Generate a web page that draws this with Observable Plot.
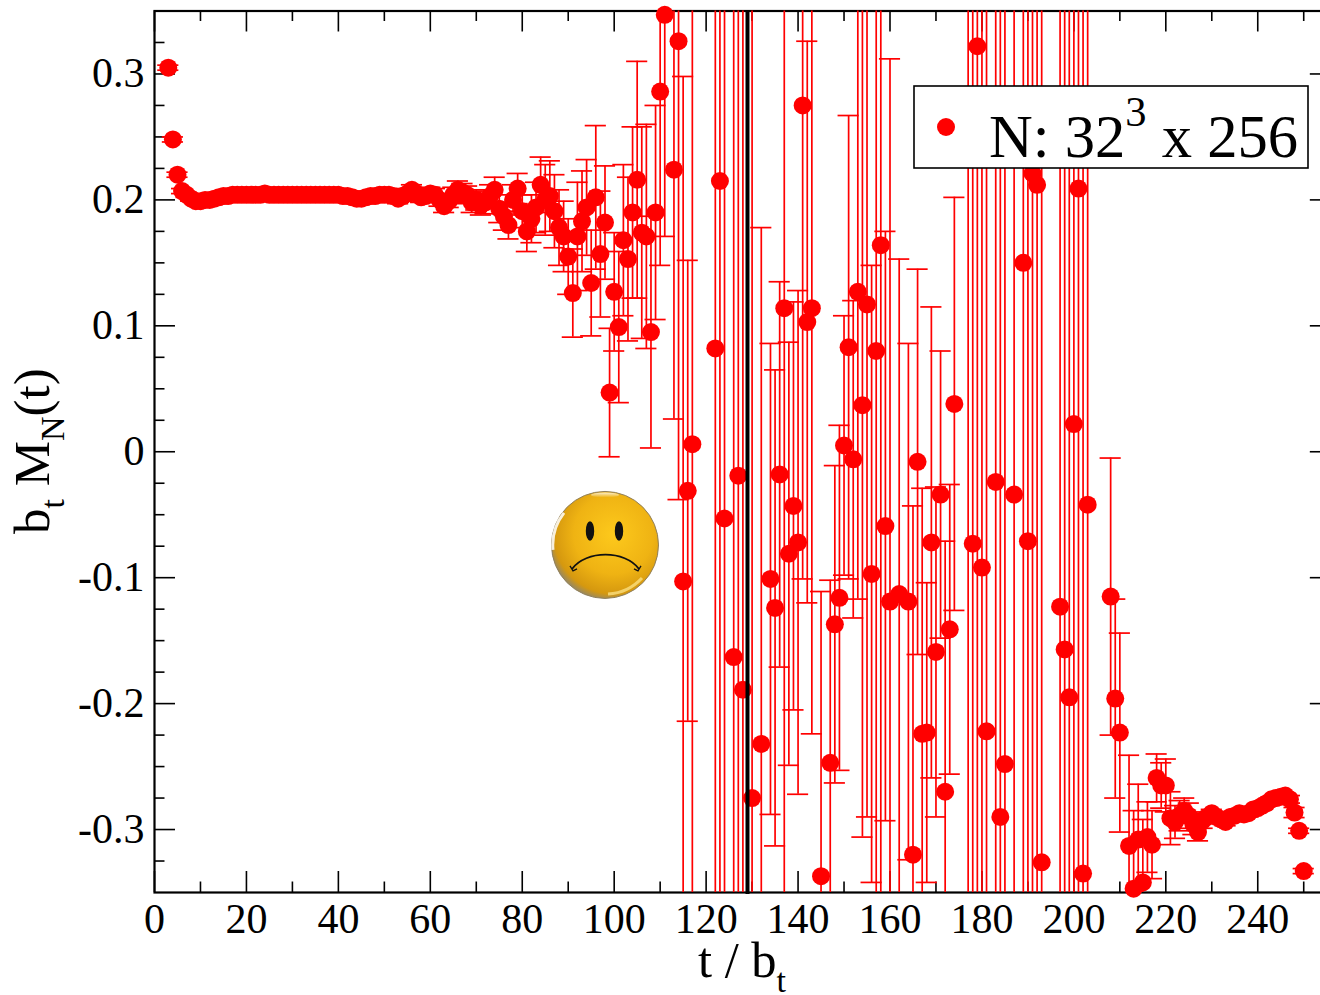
<!DOCTYPE html>
<html>
<head>
<meta charset="utf-8">
<script src="https://cdn.jsdelivr.net/npm/d3@7"></script>
<script src="https://cdn.jsdelivr.net/npm/@observablehq/plot@0.6"></script>
<style>html,body{margin:0;padding:0;background:#fff;overflow:hidden}svg{display:block}</style>
</head>
<body>
<div id="chart"></div>
<script>
const BIG = 0.9;
const times = [
  3,4,5,6,7,8,9,10,11,12,13,14,15,16,17,18,19,20,21,22,
  23,24,25,26,27,28,29,30,31,32,33,34,35,36,37,38,39,40,41,42,
  43,44,45,46,47,48,49,50,51,52,53,54,55,56,57,58,59,60,61,62,
  63,64,65,66,67,68,69,70,71,72,73,74,75,76,77,78,79,80,81,82,
  83,84,85,86,87,88,89,90,91,92,93,94,95,96,97,98,99,100,101,102,
  103,104,105,106,107,108,109,110,111,113,114,115,116,117,122,123,124,126,127,128,
  130,132,134,135,136,137,138,139,140,141,142,143,145,147,148,149,150,151,152,153,
  154,155,156,157,158,159,160,162,164,165,166,167,168,169,170,171,172,173,174,177,
  178,179,180,181,183,184,185,187,189,190,191,192,193,197,198,199,200,201,202,203,
  208,209,210,212,213,214,215,216,217,218,219,220,221,222,223,224,225,226,227,228,
  229,230,231,232,233,234,235,236,237,238,239,240,241,242,243,244,245,246,247,248,
  249,250
];
const values = [
  .305,.248,.220,.207,.204,.201,.199,.199,.200,.200,.201,.202,.203,.203,.204,.204,.204,.204,.204,.204,
  .204,.205,.204,.204,.204,.204,.204,.204,.204,.204,.204,.204,.204,.204,.204,.204,.204,.204,.203,.203,
  .202,.201,.201,.202,.203,.203,.204,.204,.204,.203,.201,.203,.205,.208,.205,.202,.203,.205,.204,.200,
  .195,.199,.204,.208,.206,.204,.198,.200,.196,.198,.203,.208,.193,.187,.180,.200,.209,.191,.175,.185,
  .194,.212,.200,.203,.191,.178,.171,.155,.126,.171,.183,.194,.134,.202,.157,.182,.047,.127,.099,.168,
  .153,.190,.216,.174,.171,.095,.190,.286,.347,.224,.326,-.103,-.031,.006,.082,.215,-.053,-.163,-.019,-.189,
  -.275,-.232,-.101,-.124,-.018,.114,-.081,-.043,-.072,.275,.103,.114,-.337,-.247,-.137,-.116,.005,.083,-.006,.127,
  .037,.117,-.097,.080,.164,-.059,-.119,-.113,-.119,-.320,-.008,-.224,-.223,-.072,-.159,-.034,-.270,-.141,.038,.260,
  -.073,.322,-.092,-.222,-.024,-.290,-.248,-.034,.150,-.071,.221,.212,-.326,-.123,-.157,-.195,.022,.209,-.335,-.042,
  -.115,-.196,-.223,-.313,-.347,-.308,-.342,-.306,-.312,-.259,-.265,-.265,-.291,-.294,-.289,-.285,-.289,-.296,-.302,-.293,
  -.290,-.287,-.290,-.292,-.294,-.290,-.289,-.287,-.288,-.287,-.284,-.283,-.281,-.279,-.276,-.275,-.274,-.273,-.276,-.2865,
  -.301,-.333
];
const errors = [
  .002,.002,.002,.002,.002,.002,.002,.002,.002,.002,.002,.002,.002,.002,.002,.002,.002,.002,.002,.002,
  .002,.002,.002,.002,.002,.002,.002,.002,.002,.002,.002,.002,.002,.002,.002,.002,.002,.002,.003,.003,
  .003,.003,.003,.003,.003,.003,.003,.003,.003,.003,.004,.004,.004,.004,.004,.004,.004,.005,.005,.005,
  .005,.005,.006,.007,.007,.007,.008,.008,.008,.009,.009,.010,.011,.011,.011,.012,.012,.013,.016,.019,
  .020,.022,.028,.028,.029,.030,.028,.030,.035,.043,.040,.038,.042,.057,.050,.045,.051,.047,.060,.060,
  .065,.068,.094,.084,.089,.092,.085,.138,.176,.198,.364,.401,.183,.500,BIG,BIG,BIG,BIG,BIG,BIG,
  BIG,.410,.187,.189,.153,BIG,.168,.162,.200,.376,.223,.338,.226,.145,.126,.137,.103,.184,.126,.244,
  .343,.407,.245,BIG,BIG,.234,.431,.266,.205,.277,.153,.195,.119,.187,.131,.114,.199,.115,.164,BIG,
  BIG,BIG,BIG,BIG,BIG,BIG,BIG,BIG,BIG,BIG,BIG,BIG,BIG,BIG,BIG,BIG,BIG,BIG,BIG,BIG,
  .110,.079,.079,.072,.062,.044,.050,.028,.027,.019,.018,.021,.021,.013,.012,.010,.010,.008,.007,.006,
  .004,.003,.003,.003,.003,.003,.003,.003,.003,.003,.002,.002,.002,.002,.002,.002,.002,.002,.003,.004,
  .002,.002
];

const xMajor = [0,20,40,60,80,100,120,140,160,180,200,220,240];
const xMinor = [10,30,50,70,90,110,130,150,170,190,210,230,250];
const yMajor = [-0.3,-0.2,-0.1,0,0.1,0.2,0.3];
const yMinor = [-0.325,-0.275,-0.25,-0.225,-0.175,-0.15,-0.125,-0.075,-0.05,-0.025,0.025,0.05,0.075,0.125,0.15,0.175,0.225,0.25,0.275,0.325];
const markerLine = [129];
const smiley = [{t: 98, v: -0.074}];

const X0 = 0, X1 = 256, Y0 = -0.35, Y1 = 0.35;
const pts = times.map((t, i) => ({t, v: values[i], lo: values[i] - errors[i], hi: values[i] + errors[i]}));
const inY = y => y >= Y0 && y <= Y1;
const capHalf = 2.3;

const smileySvg = `<svg xmlns="http://www.w3.org/2000/svg" viewBox="0 0 110 110">
<defs>
<radialGradient id="g" cx="58%" cy="40%" r="62%"><stop offset="0" stop-color="#fdc91c"/><stop offset=".6" stop-color="#efb313"/><stop offset=".9" stop-color="#d5980f"/><stop offset="1" stop-color="#9c8a5c"/></radialGradient>
<linearGradient id="h" x1="0" y1="0" x2="0" y2="1"><stop offset="0" stop-color="#fff" stop-opacity=".8"/><stop offset="1" stop-color="#fff" stop-opacity="0"/></linearGradient>
</defs>
<circle cx="55" cy="55" r="53.500" fill="url(#g)" stroke="#8f7f5c" stroke-width="1"/>
<path d="M3 60A52 52 0 0 1 14 23" fill="none" stroke="#fff" stroke-opacity=".85" stroke-width="3"/>
<ellipse cx="55" cy="5" rx="14" ry="2.500" fill="url(#h)"/>
<path d="M58 104A50 50 0 0 0 92 88" fill="none" stroke="#ffe890" stroke-opacity=".7" stroke-width="3"/>
<ellipse cx="40" cy="41" rx="4.200" ry="9.800" fill="#111"/>
<ellipse cx="69" cy="41" rx="4.200" ry="9.800" fill="#111"/>
<path d="M22 79C36 60 75 60 89 79" fill="none" stroke="#111" stroke-width="1.800"/>
<path d="M20 76L23 81L27 79M91 76L88 81L84 79" fill="none" stroke="#111" stroke-width="1.300"/>
</svg>`;
const smileyUri = "data:image/svg+xml;charset=utf-8," + encodeURIComponent(smileySvg);

const SERIF = "'Liberation Serif','Times New Roman',serif";

function richText(parent, x, y, rotate, parts, size) {
  const text = parent.append("text")
    .attr("transform", `translate(${x},${y})` + (rotate ? ` rotate(${rotate})` : ""))
    .attr("text-anchor", "start")
    .attr("font-family", SERIF).attr("font-size", size).attr("fill", "black");
  let prev = 0;
  for (const [s, fs, shift] of parts) {
    text.append("tspan").attr("dy", shift - prev).attr("font-size", fs).attr("xml:space", "preserve").text(s);
    prev = shift;
  }
  return text;
}

function annotations() {
  const g = d3.create("svg:g");
  richText(g, 698, 977, 0, [["t / b", 50.5, 0], ["t", 34, 15]], 50.5);
  richText(g, 49, 534, -90, [["b", 51, 0], ["t", 34, 15], [" M", 51, 0], ["N", 34, 15], ["(t)", 51, 0]], 51);
  g.append("rect").attr("x", 914).attr("y", 86).attr("width", 394).attr("height", 82)
    .attr("fill", "white").attr("stroke", "black").attr("stroke-width", 1.6);
  g.append("circle").attr("cx", 946).attr("cy", 127).attr("r", 9).attr("fill", "#ff0000");
  richText(g, 989, 157, 0, [["N: 32", 60.6, 0], ["3", 42.5, -31], [" x 256", 60.6, 0]], 60.6);
  return g.node();
}

const black = {stroke: "black", strokeWidth: 1.6};
const red = {stroke: "#ff0000", strokeWidth: 1.7};
const plot = Plot.plot({
  width: 1320, height: 995,
  marginLeft: 154, marginRight: -10.8, marginTop: 10.5, marginBottom: 103,
  style: {fontFamily: SERIF, background: "white", color: "black", overflow: "hidden"},
  x: {domain: [X0, X1], label: null},
  y: {domain: [Y0, Y1], label: null},
  marks: [
    Plot.ruleX(xMajor, {x: d => d, y1: Y0, y2: Y0 + 21 / 1260, ...black}),
    Plot.ruleX(xMajor, {x: d => d, y1: Y1, y2: Y1 - 21 / 1260, ...black}),
    Plot.ruleX(xMinor, {x: d => d, y1: Y0, y2: Y0 + 10.5 / 1260, ...black}),
    Plot.ruleX(xMinor, {x: d => d, y1: Y1, y2: Y1 - 10.5 / 1260, ...black}),
    Plot.ruleY(yMajor, {y: d => d, x1: X0, x2: X0 + 21 / 4.6, ...black}),
    Plot.ruleY(yMajor, {y: d => d, x1: X1, x2: X1 - 21 / 4.6, ...black}),
    Plot.ruleY(yMinor, {y: d => d, x1: X0, x2: X0 + 10.5 / 4.6, ...black}),
    Plot.ruleY(yMinor, {y: d => d, x1: X1, x2: X1 - 10.5 / 4.6, ...black}),
    Plot.frame({stroke: "black", strokeWidth: 2.2}),
    Plot.axisX({ticks: xMajor, tickSize: 0, tickPadding: 11, fontSize: 42, tickFormat: d => String(d), label: null, fill: "black"}),
    Plot.axisY({ticks: yMajor, tickSize: 0, tickPadding: 10, fontSize: 42, tickFormat: d => d === 0 ? "0" : d.toFixed(1), label: null, fill: "black"}),
    Plot.image(smiley, {x: "t", y: "v", src: () => smileyUri, width: 110, height: 110}),
    Plot.ruleX(pts, {x: "t", y1: "lo", y2: "hi", ...red, clip: true}),
    Plot.ruleY(pts.filter(d => inY(d.hi)), {y: "hi", x1: d => d.t - capHalf, x2: d => d.t + capHalf, ...red}),
    Plot.ruleY(pts.filter(d => inY(d.lo)), {y: "lo", x1: d => d.t - capHalf, x2: d => d.t + capHalf, ...red}),
    Plot.dot(pts.filter(d => inY(d.v)), {x: "t", y: "v", r: 9, fill: "#ff0000", stroke: "none"}),
    Plot.ruleX(markerLine, {x: d => d, y1: Y0 - 0.0016, y2: Y1, stroke: "black", strokeWidth: 4}),
    annotations
  ]
});
document.getElementById("chart").appendChild(plot);
</script>
</body>
</html>
